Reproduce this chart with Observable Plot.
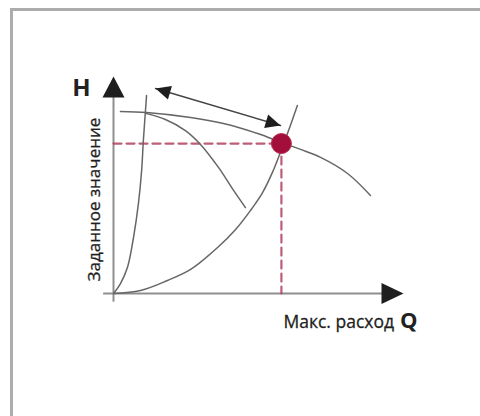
<!DOCTYPE html>
<html>
<head>
<meta charset="utf-8">
<script src="https://cdn.jsdelivr.net/npm/d3@7"></script>
<script src="https://cdn.jsdelivr.net/npm/@observablehq/plot@0.6"></script>
<style>
  html, body { margin: 0; padding: 0; background: #fff; width: 480px; height: 416px; overflow: hidden; }
  #frame { position: absolute; left: 10px; top: 8px; width: 520px; height: 460px;
           border-left: 3px solid #acacac; border-top: 3px solid #acacac; box-sizing: border-box; }
  #chart { position: absolute; left: 0; top: 0; }
</style>
</head>
<body>
<div id="frame"></div>
<div id="chart"></div>
<script>
// Schematic units: Q (flow) and H (head), both 0..100
const steepSystemQ = [0, 2.4, 4.8, 6.9, 8.6, 9.7, 10.3, 11.4];
const steepSystemH = [0, 4.6, 12.0, 25.8, 41.5, 56.7, 70.5, 91.2];

const systemQ = [0, 9.3, 18.6, 26.6, 35.9, 42.1, 47.2, 51.4, 54.8, 58.3, 61.0, 63.4];
const systemH = [0, 1.4, 6.0, 11.1, 21.2, 29.5, 38.2, 46.5, 55.8, 67.7, 77.4, 86.6];

const pumpQ = [2.4, 11.4, 26.6, 37.9, 49.7, 57.9, 64.5, 71.4, 80.7, 88.6];
const pumpH = [83.9, 83.4, 81.1, 78.3, 73.7, 69.6, 66.4, 62.7, 55.3, 45.2];

const pumpLowQ = [11.4, 17.9, 24.8, 30.0, 36.2, 41.4, 45.5];
const pumpLowH = [82.9, 80.2, 75.1, 68.7, 58.1, 47.5, 39.6];

const dutyQ = [57.9];
const dutyH = [69.1];

const rangeArrowQ = [14.5, 57.6];
const rangeArrowH = [94.5, 77.4];

const axisTipQ = [0, 100];
const axisTipH = [100, 0];

const labelH = "H";
const labelQ = "Q";
const labelHText = "Заданное значение";
const labelQText = "Макс. расход";

const zip = (xs, ys) => xs.map((x, i) => ({x, y: ys[i]}));

const steep = zip(steepSystemQ, steepSystemH);
const system = zip(systemQ, systemH);
const pump = zip(pumpQ, pumpH);
const pumpLow = zip(pumpLowQ, pumpLowH);
const duty = zip(dutyQ, dutyH);
const rangeArrow = zip(rangeArrowQ, rangeArrowH);

// Triangle arrowhead with its tip at the origin, pointing up
const tip = (len, half) => ({
  draw(ctx) { ctx.moveTo(0, 0); ctx.lineTo(half, len); ctx.lineTo(-half, len); ctx.closePath(); }
});

const curveColor = "#666";
const axisColor = "#8e8e8e";
const dashColor = "#b2415f";
const font = "'Open Sans', 'Noto Sans', sans-serif";

const chart = Plot.plot({
  width: 480,
  height: 416,
  marginLeft: 113,
  marginRight: 77,
  marginTop: 76,
  marginBottom: 123,
  x: {axis: null, domain: [0, 100]},
  y: {axis: null, domain: [0, 100]},
  style: {background: "transparent", overflow: "visible", fontFamily: font},
  marks: [
    // axes
    Plot.ruleX([axisTipQ[0]], {y1: -4, y2: 92, stroke: axisColor, strokeWidth: 2}),
    Plot.ruleY([axisTipH[1]], {x1: -3.4, x2: 93, stroke: axisColor, strokeWidth: 2}),
    Plot.dot([{x: axisTipQ[0], y: axisTipH[0]}], {x: "x", y: "y", r: 10, symbol: tip(21, 11), fill: "#1e1e1e", rotate: 0}),
    Plot.dot([{x: axisTipQ[1], y: axisTipH[1]}], {x: "x", y: "y", r: 10, symbol: tip(22, 10.5), fill: "#1e1e1e", rotate: 90}),
    // dashed guides
    Plot.line([{x: 0, y: dutyH[0]}, duty[0]], {x: "x", y: "y", stroke: dashColor, strokeWidth: 2.2, strokeDasharray: "8,5", strokeOpacity: 0.85}),
    Plot.line([duty[0], {x: dutyQ[0], y: 0}], {x: "x", y: "y", stroke: dashColor, strokeWidth: 2.2, strokeDasharray: "8,5", strokeOpacity: 0.85}),
    // curves
    Plot.line(steep, {x: "x", y: "y", curve: "catmull-rom", stroke: curveColor, strokeWidth: 1.5}),
    Plot.line(system, {x: "x", y: "y", curve: "catmull-rom", stroke: curveColor, strokeWidth: 1.5}),
    Plot.line(pump, {x: "x", y: "y", curve: "catmull-rom", stroke: curveColor, strokeWidth: 1.5}),
    Plot.line(pumpLow, {x: "x", y: "y", curve: "catmull-rom", stroke: curveColor, strokeWidth: 1.5}),
    // double arrow
    Plot.line(rangeArrow, {x: "x", y: "y", stroke: "#444", strokeWidth: 1.5}),
    Plot.dot([rangeArrow[0]], {x: "x", y: "y", r: 6, symbol: tip(15, 7), fill: "#1e1e1e", rotate: -73.5}),
    Plot.dot([rangeArrow[1]], {x: "x", y: "y", r: 6, symbol: tip(15, 7), fill: "#1e1e1e", rotate: 106.5}),
    // duty point
    Plot.dot(duty, {x: "x", y: "y", r: 10, fill: "#a30f3b", stroke: "#b5284f", strokeWidth: 1}),
    // labels
    Plot.text([labelH], {x: () => 0, y: () => 91.2, dx: -23, text: d => d, textAnchor: "end", lineAnchor: "bottom", fontSize: 24, fontWeight: 700, fill: "#222"}),
    Plot.text([labelHText], {x: () => 0, y: () => 43.3, dx: -14, text: d => d, rotate: -90, textAnchor: "middle", lineAnchor: "bottom", fontSize: 17, fill: "#1e1e1e", stroke: "#1e1e1e", strokeWidth: 0.3}),
    Plot.text([labelQText], {x: () => 58.6, y: () => 0, dy: 34, text: d => d, textAnchor: "start", lineAnchor: "bottom", fontSize: 17.5, fill: "#1e1e1e", stroke: "#1e1e1e", strokeWidth: 0.3}),
    Plot.text([labelQ], {x: () => 98.8, y: () => 0, dy: 34, text: d => d, textAnchor: "start", lineAnchor: "bottom", fontSize: 22, fontWeight: 700, fill: "#222"})
  ]
});
document.getElementById("chart").appendChild(chart);
</script>
</body>
</html>
